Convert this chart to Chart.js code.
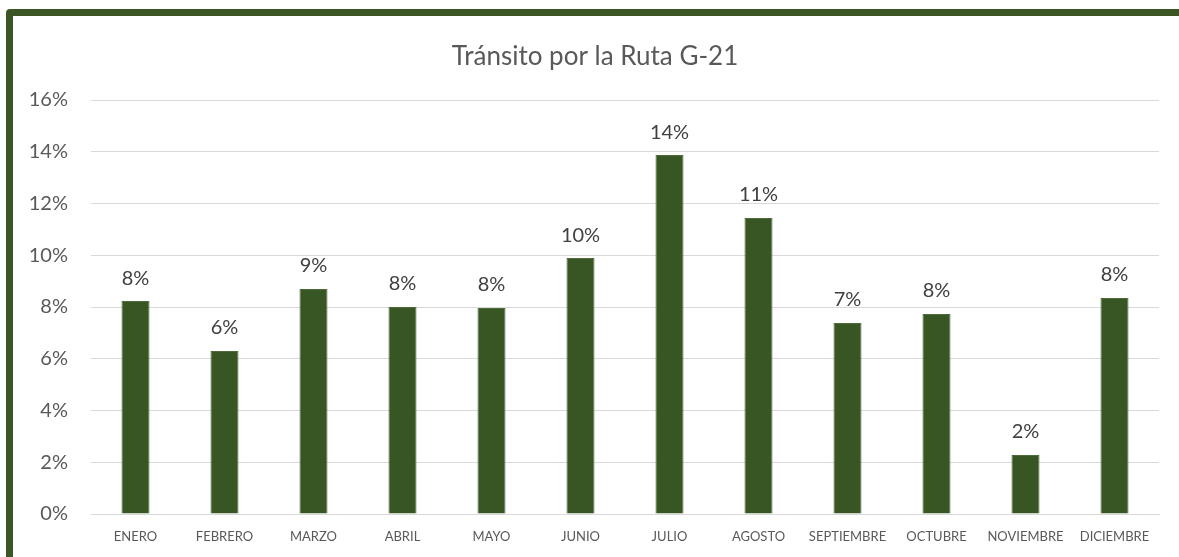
<!DOCTYPE html>
<html lang="es">
<head>
  <meta charset="UTF-8">
  <title>Tránsito por la Ruta G-21</title>
  <script src="https://cdn.jsdelivr.net/npm/chart.js"></script>
  <style>
    html, body { margin: 0; padding: 0; overflow: hidden; background: #fff; }
    #frame {
      position: absolute; left: 6px; top: 9px; width: 1300px; height: 700px;
      border: 7px solid #3b5524; border-radius: 4px; box-sizing: border-box;
    }
    #wrap { position: absolute; left: 0; top: 0; width: 1179px; height: 557px; }
  </style>
</head>
<body>
  <div id="frame"></div>
  <div id="wrap"><canvas id="myChart"></canvas></div>

  <script>
    const months = ['ENERO', 'FEBRERO', 'MARZO', 'ABRIL', 'MAYO', 'JUNIO', 'JULIO',
      'AGOSTO', 'SEPTIEMBRE', 'OCTUBRE', 'NOVIEMBRE', 'DICIEMBRE'];
    const shares = [8.23, 6.30, 8.70, 8.00, 7.96, 9.89, 13.87, 11.44, 7.38, 7.73, 2.28, 8.35];
    const yTicks = [0, 2, 4, 6, 8, 10, 12, 14, 16];
    const chartTitle = 'Tránsito por la Ruta G-21';

    const FONT = 'Lato, "Open Sans", sans-serif';

    // title is centred on the whole card (which runs past the window), not the canvas
    const cardTitle = {
      id: 'cardTitle',
      beforeDraw(chart) {
        const c = chart.ctx;
        c.save();
        c.font = '26px ' + FONT;
        c.fillStyle = '#595959';
        c.textAlign = 'center';
        c.textBaseline = 'middle';
        c.fillText(chartTitle, 595, 57);
        c.restore();
      }
    };

    // value labels above each bar
    const barLabels = {
      id: 'barLabels',
      afterDatasetsDraw(chart) {
        const c = chart.ctx;
        const meta = chart.getDatasetMeta(0);
        c.save();
        c.font = '20px ' + FONT;
        c.fillStyle = '#404040';
        c.textAlign = 'center';
        c.textBaseline = 'bottom';
        meta.data.forEach((bar, i) => {
          c.fillText(Math.round(shares[i]) + '%', bar.x, bar.y - 13);
        });
        c.restore();
      }
    };

    const ctx = document.getElementById('myChart').getContext('2d');
    new Chart(ctx, {
      type: 'bar',
      data: {
        labels: months,
        datasets: [{
          data: shares,
          backgroundColor: '#375623',
          borderColor: '#4e6b3b',
          borderWidth: 1,
          categoryPercentage: 1,
          barPercentage: 0.315
        }]
      },
      options: {
        responsive: true,
        maintainAspectRatio: false,
        animation: false,
        layout: { padding: { top: 100, right: 20, left: 0, bottom: 0 } },
        plugins: {
          legend: { display: false },
          tooltip: { enabled: false },
          title: { display: false }
        },
        scales: {
          x: {
            grid: { display: false },
            border: { color: '#d9d9d9', width: 1 },
            ticks: {
              color: '#595959',
              font: { family: FONT, size: 13 },
              padding: 7,
              maxRotation: 0,
              autoSkip: false
            },
            afterFit: (scale) => { scale.height = 43; }
          },
          y: {
            min: 0,
            max: 16,
            afterBuildTicks: (scale) => { scale.ticks = yTicks.map(v => ({ value: v })); },
            grid: { color: '#d9d9d9', lineWidth: 1, drawTicks: false },
            border: { display: false },
            ticks: {
              color: '#595959',
              font: { family: FONT, size: 20 },
              padding: 23,
              callback: (v) => v + '%'
            },
            afterFit: (scale) => { scale.width = 91; }
          }
        }
      },
      plugins: [cardTitle, barLabels]
    });
  </script>
</body>
</html>
